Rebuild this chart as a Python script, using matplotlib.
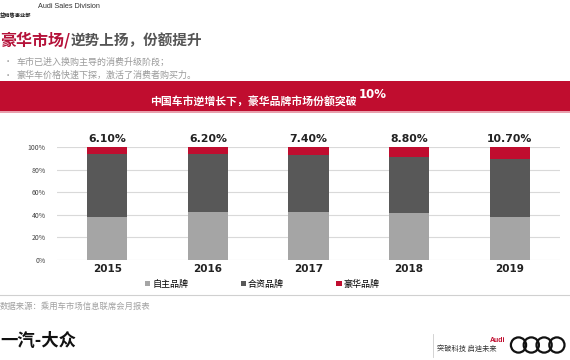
import matplotlib
matplotlib.use("Agg")
import matplotlib.pyplot as plt
from matplotlib.patches import Rectangle, Circle

plt.rcParams['font.family'] = ['Noto Sans CJK SC', 'DejaVu Sans']

years = ['2015', '2016', '2017', '2018', '2019']
domestic = [38.3, 42.2, 42.2, 41.3, 38.3]      # 自主品牌
joint = [55.6, 51.6, 50.4, 49.9, 51.0]         # 合资品牌
luxury = [6.1, 6.2, 7.4, 8.8, 10.7]            # 豪华品牌
luxury_labels = ['6.10%', '6.20%', '7.40%', '8.80%', '10.70%']
series_names = ['自主品牌', '合资品牌', '豪华品牌']
yticks = [0, 20, 40, 60, 80, 100]

W, H = 570, 360
C_LIGHT = '#a5a5a5'
C_DARK = '#585858'
C_RED = '#c00d2f'

fig = plt.figure(figsize=(W / 100, H / 100), dpi=100)

# background axes in pixel coordinates
bg = fig.add_axes([0, 0, 1, 1])
bg.set_xlim(0, W)
bg.set_ylim(H, 0)
bg.axis('off')

# header
bg.text(38, 7, 'Audi Sales Division', fontsize=5.2, color='#333333', va='center', ha='left',
        family=['Liberation Sans', 'DejaVu Sans'])
bg.text(0, 16, '益销售事业部', fontsize=3.8, color='#222222', va='center', ha='left', fontweight='bold')

# title
t1 = bg.text(0, 40, '豪华市场/', fontsize=11.5, color='#b5123a', va='center', ha='left', fontweight='bold')
bg.annotate('逆势上扬，份额提升', xy=(1, 0.5), xycoords=t1, fontsize=10.5, color='#555555',
            va='center', ha='left', fontweight='bold')

# bullets
bg.text(4, 62, '•', fontsize=6, color='#9a9a9a', va='center')
bg.text(16, 62, '车市已进入换购主导的消费升级阶段；', fontsize=6.5, color='#9a9a9a', va='center')
bg.text(4, 75, '•', fontsize=6, color='#9a9a9a', va='center')
bg.text(16, 75, '豪华车价格快速下探，激活了消费者购买力。', fontsize=6.5, color='#9a9a9a', va='center')

# red banner
bg.add_patch(Rectangle((0, 81), W, 31, facecolor=C_RED, edgecolor='none'))
bg.add_patch(Rectangle((0, 111), W, 2, facecolor='#e8a0ad', edgecolor='none'))
bg.text(357, 102, '中国车市逆增长下，豪华品牌市场份额突破', fontsize=7.8, color='white',
        va='center', ha='right', fontweight='bold')
bg.text(359, 95, '10%', fontsize=8.5, color='white', va='center', ha='left', fontweight='bold',
        family=['DejaVu Sans'])

# separator line and source
bg.plot([0, W], [295, 295], color='#d0d0d0', lw=0.8)
bg.text(0, 306, '数据来源：乘用车市场信息联席会月报表', fontsize=6, color='#a0a0a0', va='center', ha='left')

# footer logos
bg.text(0, 341, '一汽-大众', fontsize=12.5, color='#111111', va='center', ha='left', fontweight='heavy')
bg.plot([433, 433], [334, 357], color='#cccccc', lw=0.6)
bg.text(505, 341, 'Audi', fontsize=5, color=C_RED, va='center', ha='right', fontweight='bold',
        family=['Liberation Sans', 'DejaVu Sans'])
bg.text(437, 349, '突破科技 启迪未来', fontsize=5.2, color='#333333', va='center', ha='left')
r = 7.6
for i in range(4):
    bg.add_patch(Circle((518.5 + i * 12.8, 345), r, fill=False, edgecolor='#111111', lw=1.6))

# chart axes
left, right, top, bottom = 57, 560, 147, 260
ax = fig.add_axes([left / W, 1 - bottom / H, (right - left) / W, (bottom - top) / H])
x = list(range(len(years)))
bw = 0.4
ax.bar(x, domestic, bw, color=C_LIGHT, label=series_names[0], zorder=3)
ax.bar(x, joint, bw, bottom=domestic, color=C_DARK, label=series_names[1], zorder=3)
bot2 = [a + b for a, b in zip(domestic, joint)]
ax.bar(x, luxury, bw, bottom=bot2, color=C_RED, label=series_names[2], zorder=3)

for xi, lab in zip(x, luxury_labels):
    ax.text(xi, 103, lab, ha='center', va='bottom', fontsize=7.8, fontweight='bold',
            color='#222222', clip_on=False, family=['DejaVu Sans'])

ax.set_xlim(-0.5, 4.5)
ax.set_ylim(0, 100)
ax.set_yticks(yticks)
ax.set_yticklabels([f'{v}%' for v in yticks], fontsize=5, color='#444444')
ax.set_xticks(x)
ax.set_xticklabels(years, fontsize=7.5, fontweight='bold', color='#222222')
for t in ax.get_xticklabels():
    t.set_family(['DejaVu Sans'])
ax.tick_params(axis='both', length=0)
ax.tick_params(axis='y', pad=8)
ax.tick_params(axis='x', pad=3)
ax.grid(axis='y', color='#d9d9d9', lw=0.8, zorder=0)
for s in ax.spines.values():
    s.set_visible(False)
ax.set_facecolor('none')

leg = fig.legend(*ax.get_legend_handles_labels(), loc='center left',
                 bbox_to_anchor=(145 / W, 1 - 284 / H), ncol=3, frameon=False,
                 fontsize=6.5, handlelength=0.6, handleheight=0.6, handletextpad=0.2,
                 columnspacing=5.8, borderaxespad=0, borderpad=0)

fig.savefig('out.png', dpi=100)
